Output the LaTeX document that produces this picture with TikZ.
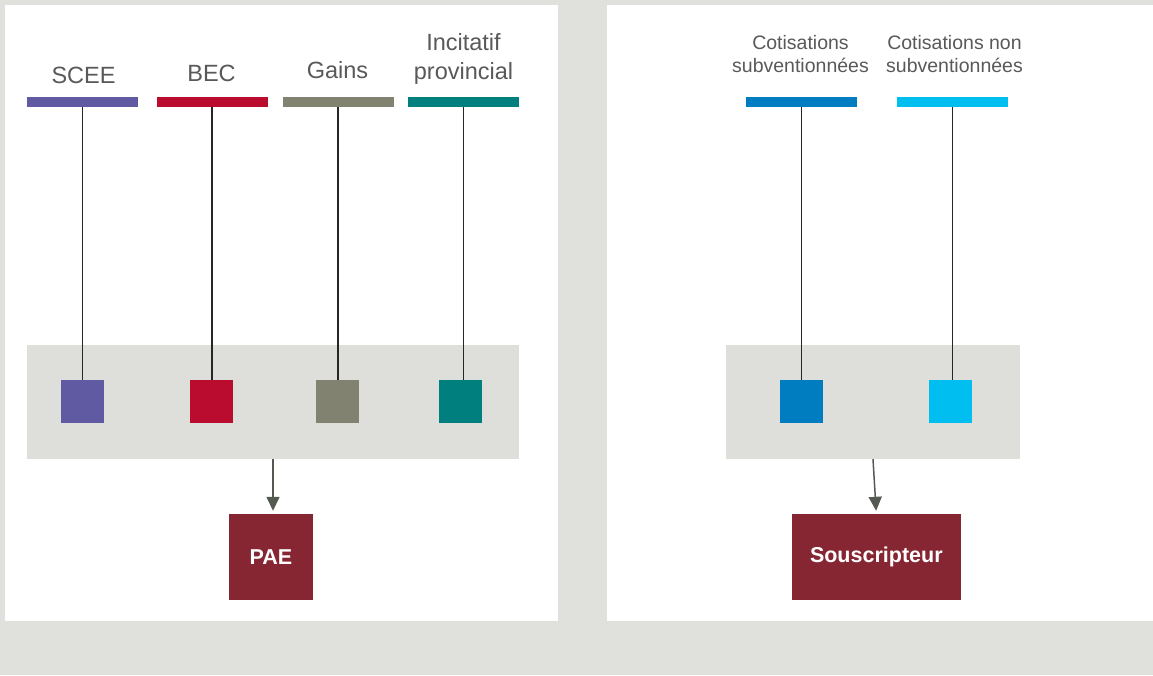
\documentclass[tikz,border=0pt]{standalone}
\usepackage{fontspec}
\setmainfont{Liberation Sans}
\usetikzlibrary{arrows.meta,calc}
\definecolor{bgc}{RGB}{224,224,220}
\definecolor{panelc}{RGB}{222,222,218}
\definecolor{txtc}{RGB}{89,89,89}
\definecolor{cscee}{RGB}{95,90,162}
\definecolor{cbec}{RGB}{186,12,47}
\definecolor{cgain}{RGB}{130,130,112}
\definecolor{cinc}{RGB}{0,127,127}
\definecolor{csub}{RGB}{0,125,192}
\definecolor{cnon}{RGB}{0,190,240}
\definecolor{cdest}{RGB}{134,38,51}
\definecolor{carr}{RGB}{85,90,80}
\tikzset{
  barbox/.style={draw=none, inner sep=0pt, minimum height=10pt, minimum width=111pt},
  sqbox/.style={draw=none, inner sep=0pt, minimum size=43pt},
  graypanel/.style={fill=panelc, draw=none, inner sep=0pt, minimum height=114pt},
  destbox/.style={fill=cdest, draw=none, inner sep=0pt, minimum height=86pt, text=white, font=\fontsize{21.5}{26}\selectfont\bfseries},
  biglabel/.style={text=txtc, inner sep=0pt, anchor=base, align=center, font=\fontsize{23.5}{28.8}\selectfont},
  smalllabel/.style={text=txtc, inner sep=0pt, anchor=base, align=center, font=\fontsize{19.5}{23.4}\selectfont},
  link/.style={draw=black!85, line width=1.3pt},
  arr/.style={draw=carr, line width=1.5pt, -{Triangle[width=13pt,length=14pt]}, shorten >=3pt}
}
\begin{document}
\begin{tikzpicture}[x=1pt,y=-1pt]
\fill[bgc] (0,0) rectangle (1153,675);
\useasboundingbox (0,0) rectangle (1153,675);
\fill[white] (5,5) rectangle (558,621);
\fill[white] (607,5) rectangle (1153,621);

% gray panels
\node[graypanel, minimum width=492pt] (lp) at (273,402) {};
\node[graypanel, minimum width=294pt] (rp) at (873,402) {};

% labels left
\node[biglabel] (tS) at (83.5,83.3) {SCEE};
\node[biglabel] (tB) at (211.5,81) {BEC};
\node[biglabel] (tG) at (337.5,78.3) {Gains};
\node[biglabel] (tI) at (463.5,79) {Incitatif\\provincial};
% labels right
\node[smalllabel] (tC) at (800.5,72.7) {Cotisations\\subventionnées};
\node[smalllabel] (tN) at (954.5,72.7) {Cotisations non\\subventionnées};

% bars
\node[barbox, fill=cscee] (bS) at (82.5,101.5) {};
\node[barbox, fill=cbec]  (bB) at (212,101.5) {};
\node[barbox, fill=cgain] (bG) at (338,101.5) {};
\node[barbox, fill=cinc]  (bI) at (463.5,101.5) {};
\node[barbox, fill=csub]  (bC) at (801.75,101.5) {};
\node[barbox, fill=cnon]  (bN) at (952.5,101.5) {};

% squares
\node[sqbox, fill=cscee] (sS) at (82.7,401.8) {};
\node[sqbox, fill=cbec]  (sB) at (211.2,401.8) {};
\node[sqbox, fill=cgain] (sG) at (337.3,401.8) {};
\node[sqbox, fill=cinc]  (sI) at (460.7,401.8) {};
\node[sqbox, fill=csub]  (sC) at (801,401.8) {};
\node[sqbox, fill=cnon]  (sN) at (950.5,401.8) {};

% links
\draw[link] (bS.south) -- (bS.south |- sS.north);
\draw[link] (bB.south) -- (bB.south |- sB.north);
\draw[link] (bG.south) -- (bG.south |- sG.north);
\draw[link] (bI.south) -- (bI.south |- sI.north);
\draw[link] (bC.south) -- (bC.south |- sC.north);
\draw[link] (bN.south) -- (bN.south |- sN.north);

% destinations
\node[destbox, minimum width=84pt] (pae) at (271,557) {PAE};
\node[destbox, minimum width=169pt] (sub) at (876.3,557) {Souscripteur};

\draw[arr] (lp.south) -- (lp.south |- pae.north);
\draw[arr] (rp.south) -- (sub.north);
\end{tikzpicture}
\end{document}
